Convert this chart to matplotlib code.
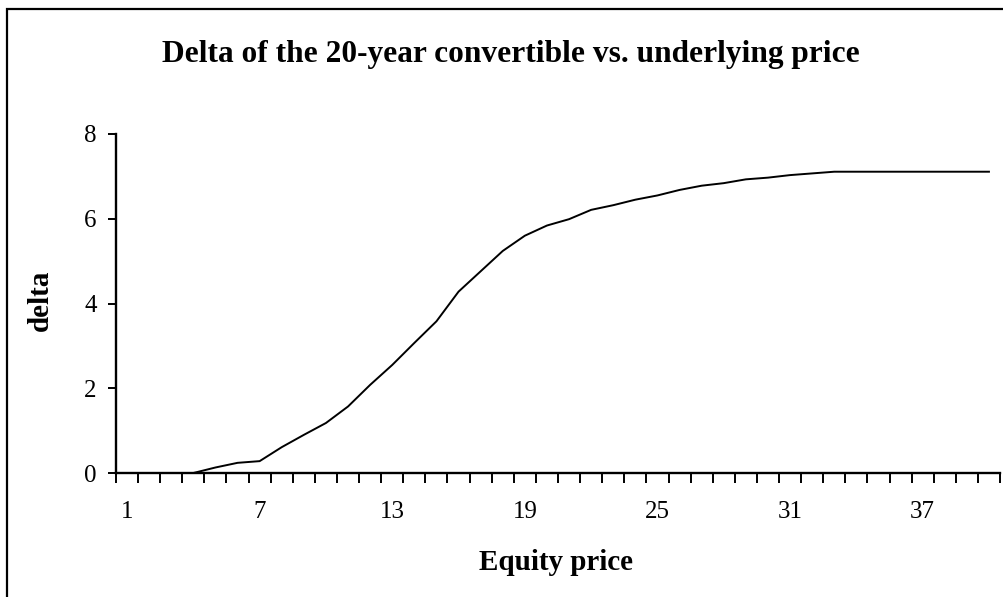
import matplotlib
matplotlib.use("Agg")
import matplotlib.pyplot as plt
from matplotlib.patches import Rectangle
from matplotlib.ticker import FixedLocator, NullFormatter

# Data
equity_price = list(range(1, 41))
delta = [0.0, 0.0, 0.0, 0.0, 0.13, 0.24, 0.28, 0.61, 0.90, 1.18,
         1.57, 2.08, 2.55, 3.07, 3.58, 4.28, 4.76, 5.24, 5.60, 5.84,
         5.99, 6.21, 6.32, 6.45, 6.55, 6.68, 6.78, 6.84, 6.93, 6.97,
         7.03, 7.07, 7.11, 7.11, 7.11, 7.11, 7.11, 7.11, 7.11, 7.11]
x_tick_labels = [1, 7, 13, 19, 25, 31, 37]
y_ticks = [0, 2, 4, 6, 8]

title = "Delta of the 20-year convertible vs. underlying price"
xlabel = "Equity price"
ylabel = "delta"

plt.rcParams['font.family'] = ['Liberation Serif', 'DejaVu Serif']

W, H = 1004, 597
fig = plt.figure(figsize=(W / 100, H / 100), dpi=100)
fig.patch.set_facecolor('white')

# Outer chart frame (extends beyond right and bottom edges)
frame = Rectangle((6.7 / W, -0.05), 1.2, (H - 9) / H + 0.05,
                  transform=fig.transFigure, fill=False,
                  edgecolor='black', linewidth=1.6, clip_on=False)
fig.add_artist(frame)

ax = fig.add_axes([116 / W, (H - 473) / H, (1000 - 116) / W, (473 - 134) / H])
ax.plot(equity_price, delta, color='black', linewidth=1.4, solid_joinstyle='miter')

ax.set_xlim(0.5, len(equity_price) + 0.5)
ax.set_ylim(0, 8)

for s in ['top', 'right']:
    ax.spines[s].set_visible(False)
for s in ['left', 'bottom']:
    ax.spines[s].set_linewidth(1.7)
    ax.spines[s].set_color('black')

ax.set_yticks(y_ticks)
ax.set_yticklabels([str(v) for v in y_ticks])
ax.tick_params(axis='y', which='major', direction='out', length=6, width=1.4,
               labelsize=18, pad=8)

ax.set_xticks(x_tick_labels)
ax.set_xticklabels([str(v) for v in x_tick_labels])
ax.xaxis.set_minor_locator(FixedLocator([i + 0.5 for i in range(0, len(equity_price) + 1)]))
ax.xaxis.set_minor_formatter(NullFormatter())
ax.tick_params(axis='x', which='major', length=0, labelsize=18, pad=20)
ax.tick_params(axis='x', which='minor', direction='out', length=7, width=1.4)

fig.text(511 / W, (H - 62) / H, title, ha='center', va='baseline',
         fontsize=22.6, fontweight='bold')
fig.text((479 + 633) / 2 / W, (H - 570) / H, xlabel, ha='center', va='baseline',
         fontsize=21, fontweight='bold')
fig.text(40 / W, (H - 300) / H, ylabel, ha='center', va='center', rotation=90,
         fontsize=21, fontweight='bold')

fig.savefig("out.png", dpi=100, facecolor='white')
